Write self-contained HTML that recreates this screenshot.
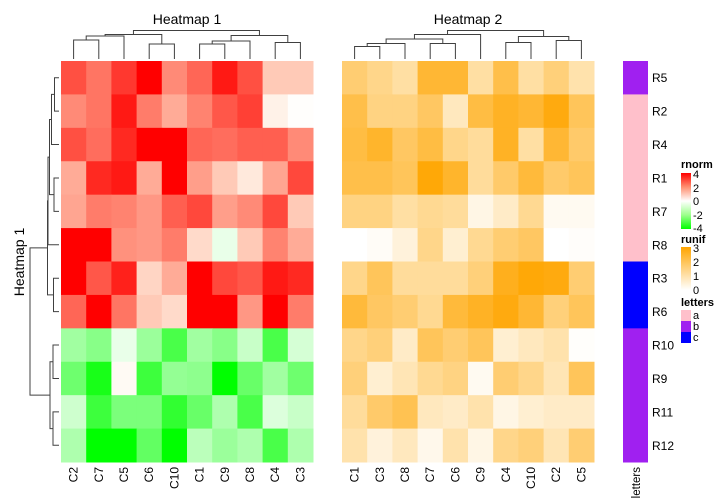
<!DOCTYPE html>
<html><head><meta charset="utf-8"><style>
html,body{margin:0;padding:0;background:#fff}
svg{display:block;font-family:"Liberation Sans",sans-serif}
</style></head><body>
<svg id="chart" width="720" height="504" viewBox="0 0 720 504" xmlns="http://www.w3.org/2000/svg">
<text x="187" y="24" font-size="14" text-anchor="middle">Heatmap 1</text>
<text x="468" y="24" font-size="14" text-anchor="middle">Heatmap 2</text>
<text transform="translate(24,262) rotate(-90)" font-size="14" text-anchor="middle">Heatmap 1</text>
<g id="legend">
<defs>
<linearGradient id="gr" x1="0" y1="0" x2="0" y2="1"><stop offset="0" stop-color="#ff0000"/><stop offset="0.25" stop-color="#ff8f70"/><stop offset="0.5" stop-color="#ffffff"/><stop offset="0.75" stop-color="#9cff8c"/><stop offset="1" stop-color="#00ff00"/></linearGradient>
<linearGradient id="go" x1="0" y1="0" x2="0" y2="1"><stop offset="0" stop-color="#ffa500"/><stop offset="1" stop-color="#ffffff"/></linearGradient>
</defs>
<text x="681" y="168" font-size="11" font-weight="bold">rnorm</text>
<rect x="681" y="173" width="10" height="56" fill="url(#gr)"/>
<text x="693" y="178" font-size="11">4</text>
<text x="693" y="192" font-size="11">2</text>
<text x="693" y="205" font-size="11">0</text>
<text x="693" y="219" font-size="11">-2</text>
<text x="693" y="232" font-size="11">-4</text>
<text x="681" y="243" font-size="11" font-weight="bold">runif</text>
<rect x="681" y="247" width="10" height="43" fill="url(#go)"/>
<text x="693" y="252" font-size="11">3</text>
<text x="693" y="266" font-size="11">2</text>
<text x="693" y="280" font-size="11">1</text>
<text x="693" y="294" font-size="11">0</text>
<text x="681" y="306" font-size="11" font-weight="bold">letters</text>
<rect x="681" y="310" width="10" height="11" fill="#ffc0cb"/>
<rect x="681" y="321" width="10" height="11" fill="#a020f0"/>
<rect x="681" y="332" width="10" height="11" fill="#0000ff"/>
<text x="693" y="319" font-size="11">a</text>
<text x="693" y="330" font-size="11">b</text>
<text x="693" y="341" font-size="11">c</text>
</g>
</svg>
<script>
const rowLabels=["R5","R2","R4","R1","R7","R8","R3","R6","R10","R9","R11","R12"];
const cols1=["C2","C7","C5","C6","C10","C1","C9","C8","C4","C3"];
const cols2=["C1","C3","C8","C7","C6","C9","C4","C10","C2","C5"];
const letters=["b","a","a","a","a","a","c","c","b","b","b","b"];
const rnorm=[
[3.0,2.5,3.3,4.5,2.2,2.7,3.7,3.0,1.2,1.2],
[2.2,2.5,3.7,2.4,1.7,2.3,2.9,3.2,0.4,0.05],
[3.0,2.6,3.5,4.5,4.5,2.7,2.6,2.8,2.8,2.2],
[1.7,3.5,3.7,1.7,4.5,1.9,1.2,0.6,1.8,3.1],
[1.8,2.4,2.3,2.0,2.8,3.1,1.9,2.2,3.1,1.2],
[4.5,4.5,2.1,2.0,2.4,0.9,-0.3,1.2,2.3,1.7],
[4.5,2.9,3.6,1.0,1.7,4.5,3.1,2.9,3.7,3.5],
[2.7,4.5,2.5,1.2,0.9,4.5,4.5,2.0,4.5,2.4],
[-1.4,-1.8,-0.3,-1.5,-2.8,-1.4,-1.8,-0.8,-2.8,-0.6],
[-2.2,-3.6,0.2,-3.0,-1.6,-1.7,-4.5,-2.3,-1.4,-2.2],
[-0.7,-3.0,-2.0,-2.0,-3.2,-2.3,-1.2,-2.8,-0.5,-0.8],
[-1.2,-4.5,-4.5,-2.4,-4.5,-1.0,-1.5,-1.2,-2.8,-1.2]];
const runif=[
[1.5,1.2,0.9,2.3,2.3,0.9,2.0,0.9,1.4,0.8],
[2.0,1.3,1.3,1.7,0.6,2.1,2.5,2.3,2.8,1.8],
[2.1,2.4,1.7,2.1,1.2,1.0,2.5,0.9,2.3,1.6],
[2.0,2.0,1.8,2.9,2.4,1.0,1.6,2.2,1.6,1.8],
[1.3,1.3,0.9,1.1,1.0,0.2,0.5,1.1,0.1,0.1],
[0.0,0.05,0.3,1.2,0.4,1.1,1.5,1.7,0.0,0.03],
[1.2,1.8,1.0,1.0,1.0,1.4,2.6,2.9,2.8,1.5],
[2.2,1.7,1.5,1.1,2.2,2.5,2.8,2.3,1.4,1.8],
[1.2,1.4,0.5,1.8,1.5,1.8,0.4,0.6,0.8,0.02],
[1.4,0.4,0.7,1.1,1.3,0.1,1.5,1.2,0.7,1.8],
[1.0,1.6,1.9,0.6,0.5,0.8,0.2,0.4,0.5,0.5],
[0.8,0.3,0.6,0.15,0.8,0.2,1.2,1.4,0.7,1.5]];
// dendrogram merges: [left, right, height]; negative = leaf index, positive = earlier merge (1-based)
const dend1=[[-1,-2,19],[1,-3,23],[-4,-5,15],[2,3,24.5],[-6,-7,15],[5,-8,18],[-9,-10,16.5],[6,7,23.5],[4,8,28.5]];
const dend2=[[-1,-2,12.5],[1,-3,15.5],[-4,-5,15.5],[2,3,20],[4,-6,24.5],[-7,-8,16.5],[-9,-10,18.5],[6,7,22.5],[5,8,28.5]];
const dendR=[[-1,-2,4.5],[1,-3,7.5],[-4,-5,5],[2,3,9.5],[4,-6,11],[-7,-8,5.5],[5,6,11.5],[-9,-10,6],[-11,-12,6],[8,9,9],[7,10,29]];

const NS="http://www.w3.org/2000/svg";
const svg=document.getElementById('chart');
const top0=61, bot0=462, rowH=(bot0-top0)/rowLabels.length;
const x1=61, x2=342, hmW=252, colW=hmW/10;
function yRow(i){return top0+i*rowH;}
function xCol(x0,j){return x0+j*colW;}
function mixP(c,t,ps){t=Math.max(0,Math.min(1,t));return c.map((v,k)=>Math.round(255-(255-v)*Math.pow(t,ps[k])));}
function colR(v){return v>=0?mixP([255,0,0],v/4,[1,1.3,1.05]):mixP([0,255,0],-v/4,[0.95,1,0.95]);}
function colO(v){return mixP([255,165,0],v/3,[1,0.85,0.85]);}
function el(tag,attrs,parent){const e=document.createElementNS(NS,tag);for(const k in attrs)e.setAttribute(k,attrs[k]);(parent||svg).appendChild(e);return e;}

function drawHeat(x0,data,cf,cols,name){
  const g=el('g',{});
  
  
  data.forEach((row,i)=>row.forEach((v,j)=>{
    const c=cf(v);
    const r=el('rect',{x:xCol(x0,j),y:yRow(i),width:colW+0.5,height:rowH+0.5,fill:`rgb(${c[0]},${c[1]},${c[2]})`},g);
    
    
  }));
  cols.forEach((c,j)=>{
    const cx=xCol(x0,j)+colW/2+4;
    const t=el('text',{transform:`translate(${cx},467) rotate(-90)`,'font-size':12,'text-anchor':'end'},svg);
    t.textContent=c;
    
    
  });
}
drawHeat(x1,rnorm,colR,cols1,'heatmap-1');
drawHeat(x2,runif,colO,cols2,'heatmap-2');

const annColors={a:"#ffc0cb",b:"#a020f0",c:"#0000ff"};
letters.forEach((l,i)=>{
  const r=el('rect',{x:623,y:yRow(i),width:25,height:rowH+0.5,fill:annColors[l]});
  
  
  const t=el('text',{x:652,y:yRow(i)+rowH/2+4.5,'font-size':12});
  t.textContent=rowLabels[i];
  
  
});
const lt=el('text',{transform:'translate(640,467) rotate(-90)','font-size':11.5,'text-anchor':'end'});
lt.textContent='letters';



function drawDend(merges,leafPos,base,dir,name){
  const g=el('g',{stroke:'#404040','stroke-width':1,fill:'none'});
  
  
  const nodes=[];
  function get(k){return k<0?{p:leafPos(-k-1),h:0}:nodes[k-1];}
  merges.forEach(m=>{
    const a=get(m[0]),b=get(m[1]),h=m[2];
    let d;
    if(dir==='top'){const yh=base-h;
      d=`M${a.p},${base-a.h}V${yh}H${b.p}V${base-b.h}`;}
    else{const xh=base-h;
      d=`M${base-a.h},${a.p}H${xh}V${b.p}H${base-b.h}`;}
    el('path',{d:d},g);
    nodes.push({p:(a.p+b.p)/2,h:h});
  });
}
drawDend(dend1,i=>x1+colW*(i+0.5),59,'top','column-dendrogram-1');
drawDend(dend2,i=>x2+colW*(i+0.5),59,'top','column-dendrogram-2');
drawDend(dendR,i=>top0+rowH*(i+0.5),59,'left','row-dendrogram');
</script>
</body></html>
